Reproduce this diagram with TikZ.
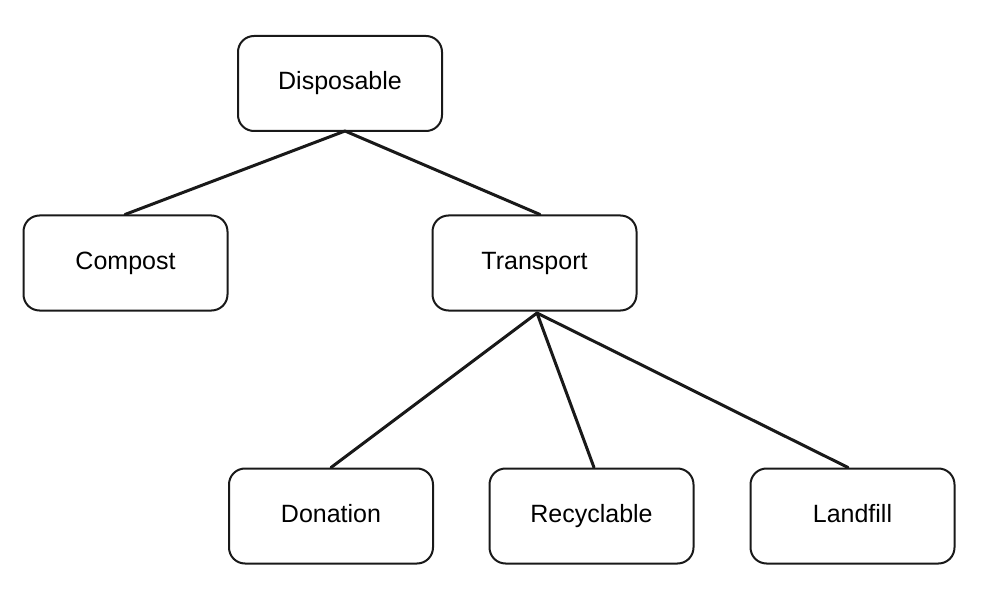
\documentclass[tikz,border=0pt]{standalone}
\usepackage{fontspec}
\setmainfont{Liberation Sans}
\begin{document}
\begin{tikzpicture}[x=1pt,y=-1pt,
  box/.style={draw=black!90, line width=2pt, rounded corners=16pt, fill=white,
    minimum width=204pt, minimum height=95pt, inner sep=0pt,
    text height=18pt, text depth=5pt,
    font=\fontsize{25}{29}\selectfont},
  link/.style={draw=black!90, line width=3pt, line cap=round}]
\useasboundingbox (0,0) rectangle (1007,596);
\node[box] (disp) at (340,83.5) {Disposable};
\node[box] (comp) at (125.5,263) {Compost};
\node[box] (trans) at (534.5,263) {Transport};
\node[box] (don) at (331,516) {Donation};
\node[box] (rec) at (591.5,516) {Recyclable};
\node[box] (land) at (852.5,516) {Landfill};
\coordinate (dbot) at (345,131);
\coordinate (tbot) at (537,313);
\draw[link] (dbot) -- (comp.north -| 125,0);
\draw[link] (dbot) -- (trans.north -| 540,0);
\draw[link] (tbot) -- (don.north -| 331,0);
\draw[link] (tbot) -- (rec.north -| 594,0);
\draw[link] (tbot) -- (land.north -| 848,0);
\end{tikzpicture}
\end{document}
